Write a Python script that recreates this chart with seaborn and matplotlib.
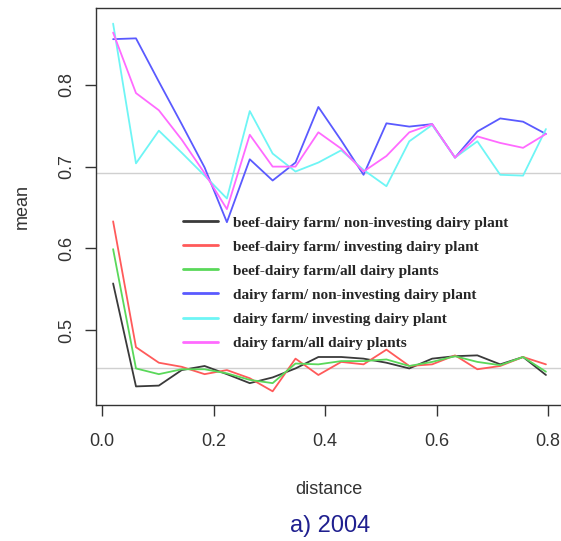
import seaborn as sns
import matplotlib.pyplot as plt
import pandas as pd

# distance classes (bin centres)
distance = [0.020, 0.061, 0.102, 0.143, 0.184, 0.224, 0.265, 0.306, 0.347, 0.388,
            0.429, 0.469, 0.510, 0.551, 0.592, 0.633, 0.673, 0.714, 0.755, 0.796]

beef_noninv = [0.557, 0.431, 0.432, 0.451, 0.456, 0.446, 0.435, 0.442, 0.453, 0.467,
               0.467, 0.465, 0.460, 0.453, 0.465, 0.468, 0.469, 0.458, 0.467, 0.445]
beef_inv = [0.633, 0.479, 0.460, 0.455, 0.446, 0.451, 0.441, 0.425, 0.465, 0.445,
            0.461, 0.458, 0.476, 0.456, 0.458, 0.469, 0.452, 0.456, 0.467, 0.458]
beef_all = [0.599, 0.453, 0.446, 0.452, 0.452, 0.447, 0.439, 0.435, 0.459, 0.458,
            0.462, 0.462, 0.464, 0.456, 0.461, 0.468, 0.461, 0.457, 0.467, 0.449]
dairy_noninv = [0.856, 0.857, 0.804, 0.752, 0.699, 0.632, 0.709, 0.683, 0.705, 0.773,
                0.732, 0.690, 0.753, 0.749, 0.752, 0.711, 0.743, 0.759, 0.755, 0.740]
dairy_inv = [0.875, 0.704, 0.744, 0.717, 0.689, 0.661, 0.768, 0.716, 0.694, 0.705,
             0.720, 0.696, 0.676, 0.731, 0.751, 0.711, 0.731, 0.690, 0.689, 0.746]
dairy_all = [0.864, 0.790, 0.769, 0.733, 0.692, 0.648, 0.739, 0.700, 0.700, 0.742,
             0.722, 0.694, 0.713, 0.742, 0.752, 0.711, 0.737, 0.729, 0.723, 0.740]

labels = ["beef-dairy farm/ non-investing dairy plant",
          "beef-dairy farm/ investing dairy plant",
          "beef-dairy farm/all dairy plants",
          "dairy farm/ non-investing dairy plant",
          "dairy farm/ investing dairy plant",
          "dairy farm/all dairy plants"]
colors = ["#3a3a3a", "#ff5a5a", "#5ad85a", "#5a5aff", "#6ef5f5", "#ff6aff"]
overall_means = [0.692, 0.4535]

series = [beef_noninv, beef_inv, beef_all, dairy_noninv, dairy_inv, dairy_all]
df = pd.concat([pd.DataFrame({"distance": distance, "mean": s, "group": lab})
                for lab, s in zip(labels, series)], ignore_index=True)

sns.set_style("white")
plt.rcParams["font.family"] = ["Liberation Sans", "DejaVu Sans"]

fig = plt.figure(figsize=(5.61, 5.41), dpi=100)
ax = fig.add_axes([0.171, 0.251, 0.829, 0.734])

for m in overall_means:
    ax.axhline(m, color="#d0d0d0", linewidth=1.0, zorder=1)

sns.lineplot(data=df, x="distance", y="mean", hue="group", hue_order=labels,
             palette=dict(zip(labels, colors)), linewidth=1.3, errorbar=None,
             sort=False, ax=ax, zorder=2)

ax.set_xlim(-0.0108, 0.823)
ax.set_ylim(0.408, 0.894)
ax.set_xticks([0.0, 0.2, 0.4, 0.6, 0.8])
ax.set_xticklabels(["0.0", "0.2", "0.4", "0.6", "0.8"])
ax.set_yticks([0.5, 0.6, 0.7, 0.8])
ax.set_yticklabels(["0.5", "0.6", "0.7", "0.8"], rotation=90, va="center")
ax.tick_params(direction="out", length=8, width=1, color="#333333",
               labelsize=13, labelcolor="#333333", bottom=True, left=True, pad=7)
ax.tick_params(axis="x", pad=12)
for side in ["left", "bottom", "top"]:
    ax.spines[side].set_color("#333333")
    ax.spines[side].set_linewidth(1.0)
ax.spines["right"].set_visible(False)

ax.set_xlabel("distance", fontsize=13, color="#333333", labelpad=22)
ax.set_ylabel("mean", fontsize=13, color="#333333", labelpad=20)

leg = ax.legend(loc="upper left", bbox_to_anchor=(0.326, 0.601),
                bbox_transform=fig.transFigure, frameon=False,
                prop={"family": "Liberation Serif", "weight": "bold", "size": 11},
                handlelength=2.3, handletextpad=1.0, labelspacing=0.68,
                borderpad=0, borderaxespad=0)
for line in leg.get_lines():
    line.set_linewidth(2.0)

fig.text(0.588, 0.027, "a) 2004", fontsize=17, color="#1f1f8f",
         ha="center", va="center")

fig.savefig("out.png", dpi=100, facecolor="white")
